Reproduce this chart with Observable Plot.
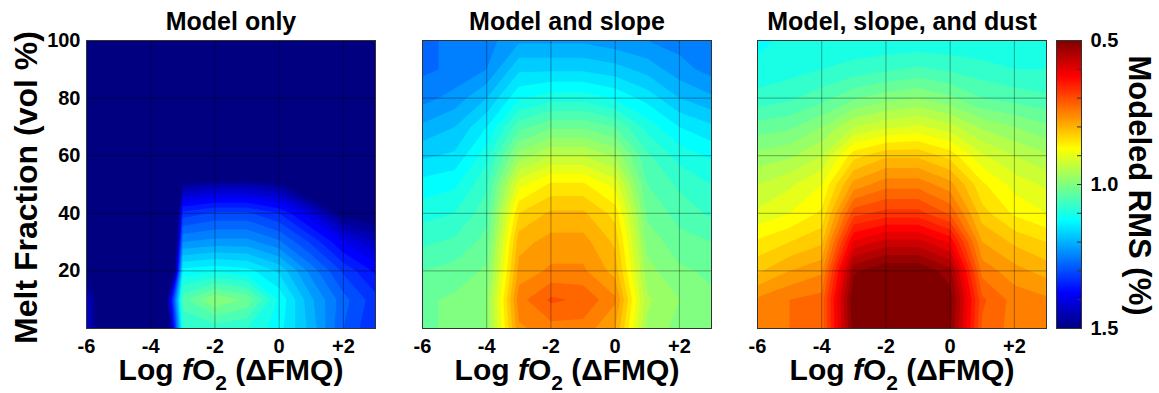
<!DOCTYPE html>
<html>
<head>
<meta charset="utf-8">
<script src="https://cdn.jsdelivr.net/npm/d3@7"></script>
<script src="https://cdn.jsdelivr.net/npm/@observablehq/plot@0.6"></script>
<style>
  body { margin: 0; background: #fff; }
  #fig { position: relative; width: 1159px; height: 393px; overflow: hidden; }
  #fig svg { position: absolute; top: 0; overflow: visible; }
</style>
</head>
<body>
<div id="fig"></div>
<script>
// ---------- data ----------
const xValues = [-6, -5, -4, -3, -2, -1, 0, 1, 2, 3];          // Log fO2 (ΔFMQ) grid
const yValues = [0, 10, 20, 30, 40, 50, 60, 70, 80, 90, 100];   // Melt fraction grid (vol %)
const xTicks = [-6, -4, -2, 0, 2];
const xTickLabels = ["-6", "-4", "-2", "0", "+2"];
const yTicks = [20, 40, 60, 80, 100];
const colorTicks = [0.5, 1.0, 1.5];
const colorTickLabels = ["0.5", "1.0", "1.5"];
const colorMinorTicks = [0.6, 0.7, 0.8, 0.9, 1.0, 1.1, 1.2, 1.3, 1.4];
const titles = ["Model only", "Model and slope", "Model, slope, and dust"];
const xLabel = "Log fO2 (ΔFMQ)";
const yLabel = "Melt Fraction (vol %)";
const colorLabel = "Modeled RMS (%)";

// rows: one per melt fraction (bottom to top), columns: fO2 = -6 … +3
const modelOnly = [
  [1.43, 1.70, 2.10, 1.10, 1.09, 1.10, 1.14, 1.21, 1.30, 1.35],
  [1.43, 1.70, 1.95, 1.06, 1.00, 1.03, 1.13, 1.22, 1.29, 1.34],
  [1.52, 1.80, 2.60, 1.14, 1.13, 1.14, 1.18, 1.26, 1.33, 1.38],
  [1.80, 1.90, 2.60, 1.25, 1.24, 1.24, 1.27, 1.33, 1.40, 1.45],
  [1.80, 1.90, 2.60, 1.34, 1.32, 1.32, 1.35, 1.42, 1.52, 1.53],
  [1.80, 1.90, 2.40, 1.49, 1.47, 1.47, 1.49, 1.60, 1.70, 1.70],
  [1.80, 1.90, 2.20, 1.80, 1.80, 1.80, 1.80, 1.80, 1.80, 1.80],
  [1.80, 1.80, 1.80, 1.80, 1.80, 1.80, 1.80, 1.80, 1.80, 1.80],
  [1.80, 1.80, 1.80, 1.80, 1.80, 1.80, 1.80, 1.80, 1.80, 1.80],
  [1.80, 1.80, 1.80, 1.80, 1.80, 1.80, 1.80, 1.80, 1.80, 1.80],
  [1.80, 1.80, 1.80, 1.80, 1.80, 1.80, 1.80, 1.80, 1.80, 1.80]
];
const modelSlope = [
  [1.03, 1.02, 1.00, 0.78, 0.76, 0.76, 0.80, 0.98, 1.01, 1.02],
  [1.03, 1.02, 1.00, 0.76, 0.72, 0.73, 0.77, 0.97, 1.00, 1.02],
  [1.05, 1.04, 1.02, 0.79, 0.77, 0.77, 0.81, 0.99, 1.02, 1.03],
  [1.08, 1.07, 1.04, 0.81, 0.79, 0.79, 0.83, 1.01, 1.04, 1.05],
  [1.11, 1.10, 1.06, 0.85, 0.82, 0.82, 0.86, 1.03, 1.06, 1.08],
  [1.14, 1.13, 1.08, 0.91, 0.87, 0.87, 0.91, 1.05, 1.08, 1.10],
  [1.18, 1.17, 1.11, 0.99, 0.95, 0.95, 0.98, 1.07, 1.11, 1.13],
  [1.22, 1.20, 1.15, 1.06, 1.03, 1.03, 1.05, 1.11, 1.15, 1.17],
  [1.26, 1.24, 1.20, 1.13, 1.11, 1.11, 1.13, 1.16, 1.20, 1.22],
  [1.28, 1.27, 1.25, 1.18, 1.18, 1.18, 1.19, 1.21, 1.24, 1.26],
  [1.28, 1.27, 1.26, 1.23, 1.23, 1.23, 1.24, 1.25, 1.26, 1.27]
];
const modelSlopeDust = [
  [0.77, 0.75, 0.74, 0.51, 0.49, 0.49, 0.52, 0.73, 0.76, 0.77],
  [0.77, 0.75, 0.74, 0.50, 0.47, 0.47, 0.51, 0.72, 0.76, 0.77],
  [0.83, 0.80, 0.78, 0.53, 0.50, 0.50, 0.54, 0.76, 0.79, 0.81],
  [0.87, 0.85, 0.83, 0.62, 0.59, 0.59, 0.63, 0.80, 0.83, 0.85],
  [0.92, 0.90, 0.87, 0.71, 0.69, 0.69, 0.73, 0.84, 0.88, 0.90],
  [0.95, 0.93, 0.90, 0.79, 0.76, 0.76, 0.79, 0.87, 0.91, 0.93],
  [0.99, 0.98, 0.95, 0.86, 0.83, 0.83, 0.86, 0.92, 0.95, 0.97],
  [1.04, 1.03, 1.00, 0.95, 0.93, 0.92, 0.94, 0.98, 1.00, 1.02],
  [1.09, 1.08, 1.06, 1.03, 1.01, 1.00, 1.02, 1.05, 1.06, 1.07],
  [1.12, 1.11, 1.10, 1.09, 1.08, 1.07, 1.08, 1.09, 1.10, 1.10],
  [1.13, 1.12, 1.12, 1.12, 1.12, 1.12, 1.12, 1.12, 1.12, 1.12]
];

// ---------- styling ----------
const FONT = "'Liberation Sans', Arial, Helvetica, sans-serif";
const jetDomain = [0.5, 0.625, 0.875, 1.125, 1.375, 1.5];
const jetRange = ["#800000", "#ff0000", "#ffff00", "#00ffff", "#0000ff", "#000080"];
const colorScale = {type: "linear", domain: jetDomain, range: jetRange, interpolate: "rgb", clamp: true};
const thresholds = d3.range(12, 61).map(i => +(i * 0.025).toFixed(3));
const fig = document.getElementById("fig");

const dxStep = xValues[1] - xValues[0];
const dyStep = yValues[1] - yValues[0];

function makePanel(rows, title, left, width, ml, mr, showY) {
  const marks = [
    Plot.contour(rows.flat(), {
      width: xValues.length, height: yValues.length,
      x1: xValues[0] - dxStep / 2, x2: xValues[xValues.length - 1] + dxStep / 2,
      y1: yValues[0] - dyStep / 2, y2: yValues[yValues.length - 1] + dyStep / 2,
      fill: Plot.identity, thresholds, clip: true
    }),
    Plot.gridX({ticks: xTicks, stroke: "#000", strokeOpacity: 0.35}),
    Plot.gridY({ticks: yTicks, stroke: "#000", strokeOpacity: 0.35}),
    Plot.frame({stroke: "#333", strokeWidth: 1}),
    Plot.axisX({ticks: xTicks, tickFormat: d => xTickLabels[xTicks.indexOf(d)], tickSize: 0, tickPadding: 10,
                fontSize: 20, fontWeight: "bold", label: null}),
    Plot.text([title], {text: d => d, frameAnchor: "top", dy: -11, lineAnchor: "bottom", fontSize: 25, fontWeight: "bold"}),
    Plot.text([xLabel], {text: d => d, frameAnchor: "bottom", dy: 51, lineAnchor: "bottom", fontSize: 30, fontWeight: "bold"})
  ];
  if (showY) {
    marks.push(Plot.axisY({ticks: yTicks, tickSize: 0, tickPadding: 6, fontSize: 20, fontWeight: "bold", label: null}));
    marks.push(Plot.text([yLabel], {text: d => d, frameAnchor: "left", textAnchor: "middle", dx: -60, dy: 3,
                                    rotate: -90, fontSize: 32, fontWeight: "bold"}));
  }
  const svg = Plot.plot({
    width, height: 393, marginLeft: ml, marginRight: mr, marginTop: 40, marginBottom: 65,
    style: {fontFamily: FONT, background: "transparent", color: "#000", overflow: "visible"},
    x: {domain: [-6, 3], label: null},
    y: {domain: [0, 100], label: null, axis: showY ? undefined : null},
    color: colorScale,
    marks
  });
  svg.style.left = left + "px";
  // style the x label: italic f and subscript 2
  d3.select(svg).selectAll("text").filter(function () { return this.textContent === xLabel; }).each(function () {
    const t = d3.select(this);
    t.text(null);
    t.append("tspan").text("Log ");
    t.append("tspan").attr("font-style", "italic").text("f");
    t.append("tspan").text("O");
    t.append("tspan").attr("font-size", 21).attr("dy", 10).text("2");
    t.append("tspan").attr("dy", -10).text(" (ΔFMQ)");
  });
  fig.appendChild(svg);
}

makePanel(modelOnly, titles[0], 0, 380, 86, 5, true);
makePanel(modelSlope, titles[1], 380, 340, 42, 9, false);
makePanel(modelSlopeDust, titles[2], 720, 335, 37, 9, false);

// ---------- colorbar ----------
const cbar = Plot.plot({
  width: 109, height: 393, marginLeft: 6, marginRight: 78, marginTop: 40, marginBottom: 65,
  style: {fontFamily: FONT, background: "transparent", color: "#000", overflow: "visible"},
  x: {domain: [0, 1], axis: null},
  y: {domain: [1.5, 0.5], axis: null},
  color: colorScale,
  marks: [
    Plot.raster({fill: (x, y) => y, x1: 0, x2: 1, y1: 0.5, y2: 1.5, pixelSize: 1}),
    Plot.tickY(colorMinorTicks, {y: d => d, insetLeft: 21, stroke: "#333"}),
    Plot.frame({stroke: "#333", strokeWidth: 1}),
    Plot.axisY({anchor: "right", ticks: colorTicks, tickFormat: d => colorTickLabels[colorTicks.indexOf(d)],
                tickSize: 0, tickPadding: 9, fontSize: 20, fontWeight: "bold", label: null}),
    Plot.text([colorLabel], {text: d => d, frameAnchor: "right", textAnchor: "middle", dx: 57, dy: 1, rotate: 90,
                             fontSize: 31, fontWeight: "bold"})
  ]
});
cbar.style.left = "1050px";
fig.appendChild(cbar);
</script>
</body>
</html>
